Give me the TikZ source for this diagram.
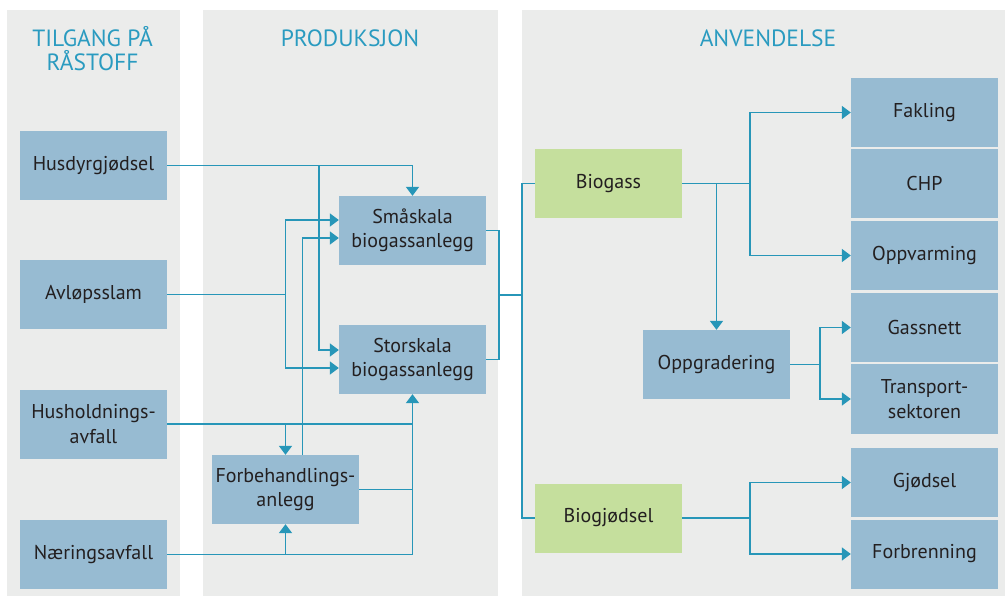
\documentclass[tikz,border=0pt]{standalone}
\usepackage{fontspec}
\setmainfont{PT Sans}
\usetikzlibrary{arrows.meta,calc}
\definecolor{panelgrey}{HTML}{EBECEB}
\definecolor{boxblue}{HTML}{97BBD2}
\definecolor{boxgreen}{HTML}{C5DF9D}
\definecolor{flowblue}{HTML}{2796B8}
\definecolor{headblue}{HTML}{2A9BC0}
\definecolor{textdark}{HTML}{231F20}
\tikzset{
  flowchart/.style={
    panel/.style={fill=panelgrey, draw=none},
    panel title/.style={font={\fontsize{23.5}{24}\selectfont},text=headblue,align=center,anchor=base,inner sep=0pt},
    boks/.style={rectangle, fill=boxblue, minimum width=147pt, minimum height=69pt, inner sep=0pt,
        align=center, text=textdark, font={\fontsize{20}{24.5}\selectfont}},
    product/.style={boks, fill=boxgreen},
    link/.style={flowblue, line width=1.8pt},
    flow/.style={link, -{Triangle[width=13pt,length=9pt]}},
  }
}

\begin{document}
\begin{tikzpicture}[flowchart, x=1pt, y=-1pt]
    \useasboundingbox (0,0) rectangle (1005,596);
    % bakgrunn
    \fill[panel] (7,10) rectangle (180,596);
    \fill[panel] (203,10) rectangle (498,596);
    \fill[panel] (522,10) rectangle (1005,596);
    \node[panel title] (tilgang) at (92.5,71) {TILGANG PÅ\\RÅSTOFF};
    \node[panel title] (produksjon) at (350,47) {PRODUKSJON};
    \node[panel title] (anvendelse) at (768,47) {ANVENDELSE};

    % raastoff
    \foreach \n/\y/\t in {hus/165.5/Husdyrgjødsel, avl/294.5/Avløpsslam,
        husk/424/{Husholdnings-\\avfall}, naer/554.5/Næringsavfall}
        \node[boks] (\n) at (93.5,\y) {\t};

    % produksjon
    \node[boks] (smaa) at (412.5,230.5) {Småskala\\biogassanlegg};
    \node[boks] (stor) at (412.5,359.5) {Storskala\\biogassanlegg};
    \node[boks] (forb) at (285.5,489.5) {Forbehandlings-\\anlegg};

    % anvendelse
    \node[product] (bgass) at (608.5,183.5) {Biogass};
    \node[product] (bgj) at (608.5,518) {Biogjødsel};
    \node[boks] (oppg) at (716.5,364.5) {Oppgradering};
    \foreach \n/\y/\t in {fak/112.5/Fakling, chp/183.5/CHP, oppv/255.5/Oppvarming,
        gass/327.5/Gassnett, trans/399/{Transport-\\sektoren},
        gjod/482.5/Gjødsel, forbr/554/Forbrenning}
        \node[boks] (\n) at (924.5,\y) {\t};

    \coordinate (k1) at (319,0);
    \coordinate (k3) at (499,0);
    \coordinate (k4) at (522,0);
    \coordinate (k5) at (750,0);
    \coordinate (k6) at (820,0);

    % inn til anleggene
    \draw[flow] (hus.east) -| (smaa.north);
    \draw[flow] (hus.east -| k1) |- ([yshift=9.5pt]stor.west);
    \draw[flow] (avl.east) -- (avl.east -| forb.north) |- ([yshift=10.5pt]smaa.west);
    \draw[flow] (avl.east -| forb.north) |- ([yshift=-8.5pt]stor.west);
    \draw[flow] ([xshift=17pt]forb.north) |- ([yshift=-7.5pt]smaa.west);
    \draw[link] (husk.east) -- (husk.east -| stor.south);
    \draw[flow] (husk.east -| forb.north) -- (forb.north);
    \draw[link] (forb.east) -- (forb.east -| stor.south);
    \draw[flow] (naer.east) -| (stor.south);
    \draw[flow] (naer.east -| forb.south) -- (forb.south);

    % ut fra anleggene
    \coordinate (s3) at (smaa.east -| k3);
    \coordinate (t3) at (stor.east -| k3);
    \draw[link] (smaa.east) -- (s3) -- (t3) -- (stor.east);
    \draw[link] ($(s3)!0.5!(t3)$) coordinate (ut) -- (ut -| k4);
    \draw[link] (bgass.west) -| (ut -| k4) |- (bgj.west);

    % biogass
    \draw[flow] (bgass.east) -- (bgass.east -| k5) |- (fak.west);
    \draw[flow] (bgass.east -| k5) |- (oppv.west);
    \draw[flow] (bgass.east -| oppg.north) -- (oppg.north);
    \draw[flow] (oppg.east) -- (oppg.east -| k6) |- (gass.west);
    \draw[flow] (oppg.east -| k6) |- (trans.west);

    % biogjoedsel
    \draw[flow] (bgj.east) -- (bgj.east -| k5) |- (gjod.west);
    \draw[flow] (bgj.east -| k5) |- (forbr.west);
\end{tikzpicture}
\end{document}
